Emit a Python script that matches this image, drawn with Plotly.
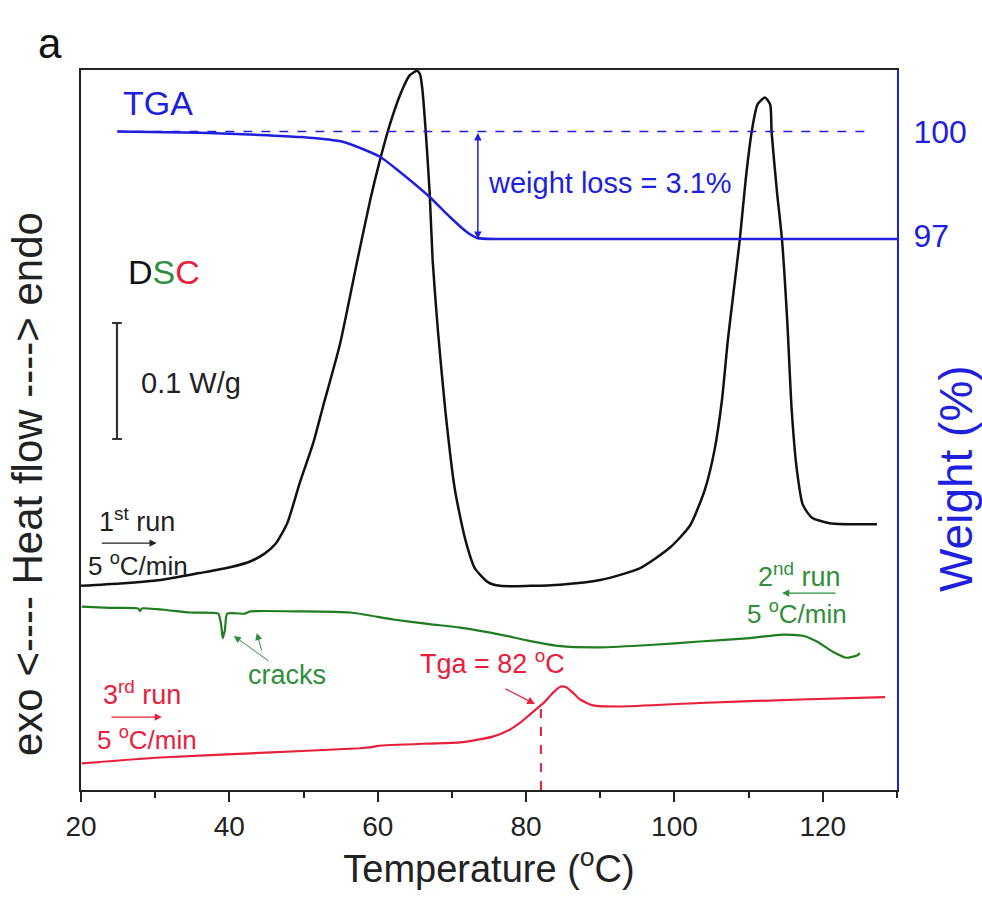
import plotly.graph_objects as go

# ---------------- data ----------------
# 1st run DSC (heating), heat flow in W/g (arbitrary offset)
t_run1 = [20.0, 25.3, 30.7, 36.0, 40.1, 42.8, 44.8, 46.2, 47.8, 49.5, 51.3, 52.6,
          54.9, 57.2, 59.0, 60.3, 61.6, 63.0, 64.3, 65.3, 65.7, 66.0, 66.5, 67.0,
          67.4, 68.1, 69.1, 70.4, 71.8, 73.1, 74.9, 76.5, 80.5, 84.6, 90.0, 95.3,
          99.4, 102.1, 104.1, 105.4, 106.4, 107.2, 108.0, 108.8, 109.6, 110.4,
          111.2, 112.2, 112.9, 113.1, 113.8, 114.5, 115.2, 115.8, 116.5, 117.3,
          118.5, 120.9, 127.3]
hf_run1 = [0.176, 0.178, 0.181, 0.187, 0.192, 0.197, 0.204, 0.212, 0.230, 0.265,
           0.299, 0.330, 0.384, 0.455, 0.509, 0.543, 0.573, 0.599, 0.616, 0.620,
           0.617, 0.605, 0.565, 0.515, 0.457, 0.397, 0.328, 0.259, 0.216, 0.191,
           0.179, 0.176, 0.176, 0.177, 0.181, 0.191, 0.209, 0.228, 0.259, 0.293,
           0.336, 0.388, 0.431, 0.474, 0.526, 0.567, 0.591, 0.597, 0.591, 0.567,
           0.517, 0.474, 0.405, 0.328, 0.276, 0.246, 0.235, 0.230, 0.229]

# 2nd run DSC (cooling)
t_run2 = [20.1, 23.9, 27.7, 27.95, 28.2, 34.7, 38.5, 38.9, 39.1, 39.4, 39.7, 42.1,
          42.8, 49.5, 56.3, 62.1, 67.0, 71.1, 76.5, 80.1, 84.6, 90.0, 96.7, 103.4,
          110.2, 114.6, 117.3, 119.2, 121.4, 123.2, 124.6, 125.0]
hf_run2 = [0.158, 0.157, 0.1565, 0.1543, 0.1565, 0.153, 0.152, 0.142, 0.131, 0.138,
           0.152, 0.152, 0.154, 0.154, 0.153, 0.147, 0.143, 0.140, 0.134, 0.129,
           0.124, 0.123, 0.125, 0.128, 0.131, 0.134, 0.133, 0.128, 0.119, 0.114,
           0.116, 0.118]

# 3rd run DSC (heating)
t_run3 = [20.1, 30.7, 44.1, 57.6, 59.2, 60.0, 66.6, 71.1, 75.5, 77.8, 79.2, 80.5,
          81.6, 82.5, 83.5, 84.6, 85.4, 86.3, 87.3, 89.0, 92.6, 103.4, 116.9, 128.4]
hf_run3 = [0.023, 0.028, 0.032, 0.036, 0.037, 0.038, 0.040, 0.041, 0.046, 0.052,
           0.058, 0.065, 0.071, 0.076, 0.083, 0.089, 0.0886, 0.084, 0.078, 0.073,
           0.072, 0.075, 0.078, 0.080]

# TGA
t_tga = [24.9, 36.0, 44.1, 49.5, 55.3, 60.3, 63.0, 67.0, 69.7, 72.0, 73.4, 76.5, 130.0]
w_tga = [100.0, 99.96, 99.90, 99.84, 99.70, 99.27, 98.83, 98.11, 97.54, 97.10,
         96.93, 96.90, 96.90]

weight_ref = 100.0
weight_final = 96.9
ref_line_t = [24.9, 126.6]
tga_onset = 82
tga_onset_hf = 0.073
scale_bar = 0.1          # W/g
scale_bar_low = 0.3026
scale_bar_t = 24.85

x_ticks = [20, 40, 60, 80, 100, 120]
w_ticks = [97, 100]

# ---------------- styling ----------------
FONT = "Liberation Sans, Arial, sans-serif"
BLACK = "#111111"
GREEN = "#1e7d1e"
GREEN_T = "#2f8f3a"
RED = "#e8203c"
BLUE = "#1f1fe0"

W, H = 982, 911
L, R, T, B = 81, 85, 70, 121
pw, ph = W - L - R, H - T - B

def px(xp):
    return (xp - L) / pw

def py(yp):
    return (H - B - yp) / ph

fig = go.Figure()
fig.add_trace(go.Scatter(x=t_run1, y=hf_run1, mode="lines", name="1st run",
                         line=dict(color=BLACK, width=2.5, shape="spline", smoothing=0.6)))
fig.add_trace(go.Scatter(x=t_run2, y=hf_run2, mode="lines", name="2nd run",
                         line=dict(color=GREEN, width=2.2, shape="spline", smoothing=0.5)))
fig.add_trace(go.Scatter(x=t_run3, y=hf_run3, mode="lines", name="3rd run",
                         line=dict(color=RED, width=2.2, shape="spline", smoothing=0.6)))
fig.add_trace(go.Scatter(x=[tga_onset, tga_onset], y=[0, tga_onset_hf], mode="lines",
                         line=dict(color=RED, width=2, dash="dash"), showlegend=False))
fig.add_trace(go.Scatter(x=[scale_bar_t, scale_bar_t], y=[scale_bar_low, scale_bar_low + scale_bar],
                         mode="lines+markers", marker=dict(symbol="line-ew", size=7,
                         line=dict(color="#333333", width=2)),
                         line=dict(color="#333333", width=2.2), showlegend=False))
fig.add_trace(go.Scatter(x=t_tga, y=w_tga, mode="lines", name="TGA", yaxis="y2",
                         line=dict(color=BLUE, width=2.5, shape="spline", smoothing=0.6)))
fig.add_trace(go.Scatter(x=ref_line_t, y=[weight_ref, weight_ref], mode="lines",
                         yaxis="y2", line=dict(color=BLUE, width=1.5, dash="dash"),
                         showlegend=False))

ann = []
def txt(x, y, s, color, size, yref="y", xanchor="center", **kw):
    ann.append(dict(x=x, y=y, xref="x", yref=yref, text=s, showarrow=False,
                    font=dict(family=FONT, size=size, color=color), xanchor=xanchor,
                    yanchor="middle", **kw))

def arrow(x0, y0, x1, y1, color, yref="y", width=1.5, head=2, size=1.0, side="end"):
    ann.append(dict(x=x1, y=y1, ax=x0, ay=y0, xref="x", yref=yref, axref="x",
                    ayref=yref, text="", showarrow=True, arrowcolor=color,
                    arrowwidth=width, arrowhead=head, arrowsize=size, arrowside=side,
                    standoff=0, startstandoff=0))

txt(30.4, 100.82, "TGA", BLUE, 34, yref="y2")
txt(74.6, 98.52, "weight loss = 3.1%", BLUE, 29, yref="y2", xanchor="left")
arrow(73.5, weight_ref, 73.5, weight_final, BLUE, yref="y2", width=1.5, head=2,
      side="end+start")
txt(31.2, 0.4466, "D<span style='color:%s'>S</span><span style='color:%s'>C</span>"
    % (GREEN_T, RED), BLACK, 34)
txt(27.8, 0.3509, "0.1 W/g", "#222222", 29, xanchor="left")
txt(27.5, 0.233, "1<sup>st</sup> run", "#222222", 27)
arrow(22.6, 0.2129, 30.2, 0.2129, "#222222", width=1.2, head=2, size=1.2)
txt(27.7, 0.194, "5 <sup>o</sup>C/min", "#222222", 26)
txt(116.9, 0.1853, "2<sup>nd</sup> run", GREEN_T, 27)
arrow(121.9, 0.1698, 114.5, 0.1698, GREEN_T, width=1.2, head=2, size=1.2)
txt(116.5, 0.1526, "5 <sup>o</sup>C/min", GREEN_T, 26)
txt(47.8, 0.099, "cracks", GREEN_T, 27)
arrow(45.5, 0.1103, 40.6, 0.1328, GREEN_T, width=1.0, head=2, size=1.4)
arrow(44.4, 0.119, 43.7, 0.1353, GREEN_T, width=1.0, head=2, size=1.4)
txt(28.2, 0.0836, "3<sup>rd</sup> run", RED, 27)
arrow(23.9, 0.0629, 30.9, 0.0629, RED, width=1.2, head=2, size=1.2)
txt(28.9, 0.0448, "5 <sup>o</sup>C/min", RED, 26)
txt(75.5, 0.110, "Tga = 82 <sup>o</sup>C", RED, 27)
arrow(77.0, 0.0879, 81.2, 0.0741, RED, width=1.2, head=2, size=1.3)

# axis titles placed as annotations (pixel positions converted to paper coords)
ann.append(dict(x=px(28), y=py(484), xref="paper", yref="paper",
                text="exo <---- Heat flow ----> endo", showarrow=False, textangle=-90,
                xanchor="center", yanchor="middle",
                font=dict(family=FONT, size=42, color="#222222")))
ann.append(dict(x=px(956), y=py(479), xref="paper", yref="paper", text="Weight (%)",
                showarrow=False, textangle=-90, xanchor="center", yanchor="middle",
                font=dict(family=FONT, size=46, color=BLUE)))
ann.append(dict(x=px(50), y=py(44), xref="paper", yref="paper", text="a",
                showarrow=False, xanchor="center", yanchor="middle",
                font=dict(family=FONT, size=42, color="#111111")))

fig.update_layout(
    width=W, height=H,
    margin=dict(l=L, r=R, t=T, b=B),
    paper_bgcolor="white", plot_bgcolor="white",
    showlegend=False,
    font=dict(family=FONT, size=26, color="#222222"),
    xaxis=dict(range=[20, 130], tickvals=x_ticks, ticks="outside", ticklen=10,
               tickwidth=2, tickcolor="#222222", showline=True, linecolor="#222222",
               linewidth=2, mirror=True, showgrid=False, zeroline=False,
               minor=dict(dtick=10, tick0=20, ticks="outside", ticklen=6, tickwidth=2,
                          tickcolor="#222222", showgrid=False),
               tickfont=dict(size=28, color="#222222"),
               title=dict(text="Temperature (<sup>o</sup>C)", standoff=1,
                          font=dict(size=38, color="#222222"))),
    yaxis=dict(range=[0, 0.6207], showticklabels=False, ticks="", showline=True,
               linecolor="#222222", linewidth=2, showgrid=False, zeroline=False),
    yaxis2=dict(range=[81.02, 101.77], overlaying="y", side="right", tickvals=w_ticks,
                ticktext=[str(v) for v in w_ticks], ticks="", showline=True,
                linecolor=BLUE, linewidth=2, showgrid=False, zeroline=False,
                ticklabelstandoff=8,
                tickfont=dict(size=32, color=BLUE)),
    annotations=ann,
)

fig.write_html("out.html")
